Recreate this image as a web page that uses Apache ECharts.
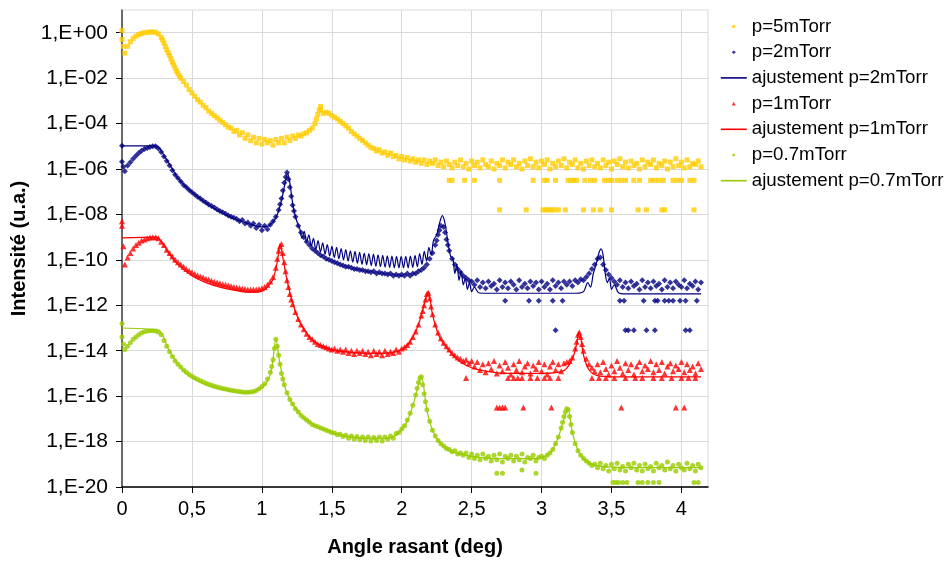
<!DOCTYPE html>
<html><head><meta charset="utf-8">
<script src="https://cdn.jsdelivr.net/npm/echarts@6/dist/echarts.min.js"></script>
<style>html,body{margin:0;padding:0;background:#fff}#c{width:946px;height:563px}</style>
</head><body><div id="c"></div><script>
// Angle grid of the measured scans (deg)
const angleStart = 0, angleStep = 0.02;
// log10 of intensity, one value per angle step
const p5 = [-0.3,-0.9,-0.6,-0.4,-0.25,-0.15,-0.08,-0.03,0.0,0.02,
0.03,0.03,0.02,-0.05,-0.2,-0.45,-0.75,-1.0,-1.3,-1.55,
-1.8,-2.0,-2.15,-2.3,-2.5,-2.65,-2.8,-2.95,-3.05,-3.2,
-3.3,-3.45,-3.55,-3.65,-3.75,-3.85,-3.95,-4.05,-4.15,-4.2,
-4.35,-4.3,-4.5,-4.4,-4.65,-4.5,-4.75,-4.6,-4.85,-4.65,
-4.9,-4.7,-4.85,-4.75,-4.95,-4.7,-4.85,-4.65,-4.85,-4.6,
-4.75,-4.55,-4.65,-4.5,-4.55,-4.45,-4.4,-4.3,-4.2,-4.0,
-3.6,-3.25,-3.55,-3.5,-3.55,-3.65,-3.72,-3.8,-3.9,-4.0,
-4.1,-4.2,-4.35,-4.45,-4.55,-4.65,-4.75,-4.85,-4.95,-5.05,
-5.1,-5.2,-5.15,-5.3,-5.25,-5.4,-5.3,-5.45,-5.4,-5.55,
-5.45,-5.6,-5.5,-5.65,-5.55,-5.7,-5.6,-5.75,-5.6,-5.8,
-5.65,-5.75,-5.6,-5.85,-5.7,-5.9,-5.65,-5.8,-5.95,-5.7,
-5.85,-5.6,-5.9,-5.75,-6.0,-5.65,-5.85,-5.7,-5.95,-5.6,
-5.8,-5.9,-5.65,-6.0,-5.75,-5.85,-5.6,-5.95,-5.7,-5.8,
-5.6,-5.9,-5.75,-6.0,-5.65,-5.85,-5.55,-5.9,-5.7,-5.95,
-5.65,-5.8,-5.6,-6.0,-5.75,-5.9,-5.65,-5.85,-5.55,-5.95,
-5.7,-5.8,-5.6,-5.95,-5.75,-6.0,-5.65,-5.85,-5.6,-5.9,
-5.75,-5.95,-5.6,-5.85,-5.7,-6.0,-5.65,-5.8,-5.55,-5.9,
-5.7,-5.95,-5.65,-5.85,-5.75,-6.0,-5.6,-5.9,-5.7,-5.8,
-5.6,-5.95,-5.75,-5.85,-5.65,-6.0,-5.7,-5.9,-5.55,-5.85,
-5.7,-5.95,-5.6,-5.9,-5.75,-5.8,-5.65,-5.9];
// extra readings: steep parts and isolated low-count points [angle, log10 I]
const p5Extra = [[0,0.1],[0.01,-0.6],[0.29,-0.32],[0.31,-0.6],[0.33,-0.88],[0.35,-1.15],[0.37,-1.42],[0.39,-1.68],[0.41,-1.9],[1.39,-3.8],[1.41,-3.4],[1.42,-3.4],
[2.34,-6.5],[2.36,-6.5],[2.45,-6.5],[2.52,-6.5],[2.70,-6.5],[2.94,-6.5],[3.02,-6.5],[3.04,-6.5],[3.10,-6.5],[3.19,-6.5],[3.21,-6.5],[3.23,-6.5],[3.25,-6.5],[3.31,-6.5],[3.35,-6.5],[3.38,-6.5],[3.45,-6.5],[3.48,-6.5],[3.50,-6.5],[3.54,-6.5],[3.57,-6.5],[3.60,-6.5],[3.66,-6.5],[3.70,-6.5],[3.78,-6.5],[3.81,-6.5],[3.84,-6.5],[3.87,-6.5],[3.94,-6.5],[3.97,-6.5],[4.00,-6.5],[4.06,-6.5],[4.09,-6.5],
[2.70,-7.8],[2.89,-7.8],[3.01,-7.8],[3.03,-7.8],[3.05,-7.8],[3.07,-7.8],[3.09,-7.8],[3.12,-7.8],[3.17,-7.8],[3.30,-7.8],[3.37,-7.8],[3.42,-7.8],[3.50,-7.8],[3.69,-7.8],[3.75,-7.8],[3.86,-7.8],[3.88,-7.8],[4.09,-7.8]];

const p2 = [-5.68,-6.1,-5.85,-5.7,-5.55,-5.42,-5.3,-5.2,-5.12,-5.07,
-5.03,-5.0,-5.0,-5.1,-5.25,-5.45,-5.65,-5.85,-6.05,-6.25,
-6.4,-6.55,-6.7,-6.8,-6.92,-7.02,-7.12,-7.22,-7.3,-7.4,
-7.48,-7.56,-7.63,-7.7,-7.78,-7.85,-7.9,-7.97,-8.05,-8.1,
-8.15,-8.2,-8.3,-8.25,-8.4,-8.35,-8.5,-8.4,-8.6,-8.45,
-8.7,-8.5,-8.65,-8.45,-8.3,-8.1,-7.8,-7.3,-6.6,-6.15,
-6.8,-7.6,-8.1,-8.5,-8.8,-9.0,-9.2,-9.35,-9.5,-9.6,
-9.7,-9.8,-9.85,-9.95,-10.0,-10.05,-10.1,-10.15,-10.2,-10.25,
-10.3,-10.3,-10.35,-10.4,-10.4,-10.45,-10.45,-10.5,-10.5,-10.55,
-10.5,-10.6,-10.55,-10.6,-10.6,-10.65,-10.6,-10.7,-10.65,-10.7,
-10.65,-10.7,-10.6,-10.7,-10.6,-10.6,-10.5,-10.45,-10.35,-10.2,
-9.95,-9.7,-9.35,-8.9,-8.5,-8.55,-9.1,-9.6,-9.95,-10.2,
-10.4,-10.55,-10.7,-10.8,-10.9,-10.95,-11.1,-10.9,-11.2,-11.0,
-11.25,-10.95,-11.15,-11.05,-11.3,-10.9,-11.2,-11.0,-11.25,-10.95,
-11.1,-11.3,-10.9,-11.2,-11.05,-11.25,-10.95,-11.15,-11.0,-11.3,
-10.95,-11.2,-11.05,-11.3,-10.9,-11.15,-11.0,-11.25,-10.95,-11.1,
-10.95,-11.15,-10.9,-11.0,-10.85,-10.9,-10.75,-10.6,-10.4,-10.2,
-9.95,-9.9,-10.2,-10.45,-10.65,-10.8,-10.95,-11.1,-10.9,-11.2,
-11.0,-11.25,-10.95,-11.15,-11.05,-11.3,-10.9,-11.2,-11.0,-11.25,
-10.95,-11.15,-11.05,-11.3,-10.9,-11.2,-11.0,-11.25,-10.95,-11.1,
-11.2,-10.9,-11.25,-11.05,-11.15,-10.95,-11.3,-11.0];
const p2Extra = [[0,-4.98],[0.01,-5.9],[1.13,-7.55],[1.15,-6.95],[1.17,-6.35],[1.19,-6.45],[1.21,-7.2],[1.23,-7.85],[2.25,-9.15],[2.27,-8.7],[2.31,-8.8],[2.33,-9.35],
[2.74,-11.8],[2.91,-11.8],[2.98,-11.8],[3.08,-11.8],[3.15,-11.8],[3.56,-11.8],[3.59,-11.8],[3.73,-11.8],[3.81,-11.8],[3.83,-11.8],[3.88,-11.8],[3.91,-11.8],[3.94,-11.8],[3.99,-11.8],[4.03,-11.8],[4.11,-11.8],
[3.10,-13.1],[3.60,-13.1],[3.62,-13.1],[3.66,-13.1],[3.75,-13.1],[3.81,-13.1],[4.03,-13.1],[4.06,-13.1]];

const p1 = [-8.5,-10.2,-9.9,-9.7,-9.5,-9.35,-9.25,-9.15,-9.1,-9.05,
-9.02,-9.0,-9.0,-9.05,-9.2,-9.35,-9.55,-9.7,-9.85,-10.0,
-10.1,-10.2,-10.3,-10.4,-10.48,-10.55,-10.62,-10.68,-10.73,-10.78,
-10.83,-10.87,-10.92,-10.96,-11.0,-11.03,-11.07,-11.1,-11.13,-11.16,
-11.19,-11.22,-11.24,-11.26,-11.28,-11.3,-11.3,-11.3,-11.3,-11.28,
-11.25,-11.2,-11.1,-10.95,-10.75,-10.35,-9.6,-9.3,-10.1,-10.9,
-11.5,-11.95,-12.3,-12.6,-12.85,-13.05,-13.25,-13.4,-13.5,-13.6,
-13.7,-13.75,-13.8,-13.85,-13.9,-13.95,-13.9,-14.0,-13.95,-14.05,
-13.95,-14.1,-14.0,-14.15,-14.0,-14.1,-14.0,-14.15,-14.05,-14.2,
-14.0,-14.15,-14.05,-14.2,-14.0,-14.15,-14.05,-14.1,-13.95,-14.05,
-13.9,-13.85,-13.75,-13.6,-13.4,-13.15,-12.85,-12.45,-12.0,-11.5,
-11.7,-12.4,-12.85,-13.2,-13.45,-13.65,-13.8,-13.95,-14.1,-14.2,
-14.3,-14.35,-14.45,-14.4,-14.55,-14.45,-14.7,-14.5,-14.85,-14.6,
-14.95,-14.55,-14.8,-14.45,-15.0,-14.65,-14.9,-14.5,-14.75,-15.05,
-14.6,-14.85,-14.45,-14.95,-14.7,-14.55,-15.0,-14.65,-14.8,-14.5,
-14.9,-14.6,-15.05,-14.7,-14.5,-14.85,-14.6,-14.9,-14.55,-14.5,
-14.45,-14.3,-13.9,-13.3,-13.4,-14.0,-14.35,-14.6,-14.75,-14.9,
-14.6,-14.95,-14.5,-14.8,-15.05,-14.65,-14.9,-14.45,-14.75,-15.0,
-14.55,-14.85,-14.6,-15.05,-14.7,-14.5,-14.9,-14.65,-14.8,-14.45,
-14.95,-14.6,-14.85,-14.5,-15.0,-14.7,-14.55,-14.9,-14.65,-14.8,
-14.5,-14.95,-14.6,-14.85,-14.7,-15.0,-14.55,-14.8];
const p1Extra = [[0,-8.3],[0.01,-9.4],[1.11,-9.95],[1.13,-9.4],[1.15,-9.7],[1.17,-10.5],[1.19,-11.2],[1.21,-11.75],[2.15,-12.25],[2.17,-11.75],[2.19,-11.45],[2.21,-12.05],[3.25,-13.6],[3.27,-13.2],[3.29,-13.7],
[2.68,-16.5],[2.70,-16.5],[2.72,-16.5],[2.74,-16.5],[2.87,-16.5],[3.07,-16.5],[3.57,-16.5],[3.96,-16.5],[4.02,-16.5],
[2.46,-15.2],[2.76,-15.2],[2.80,-15.2],[2.83,-15.2],[2.86,-15.2],[2.92,-15.2],[2.97,-15.2],[3.02,-15.2],[3.06,-15.2],[3.12,-15.2],[3.36,-15.2],[3.41,-15.2],[3.46,-15.2],[3.52,-15.2],[3.60,-15.2],[3.67,-15.2],[3.72,-15.2],[3.80,-15.2],[3.86,-15.2],[3.93,-15.2],[4.00,-15.2],[4.05,-15.2],[4.10,-15.2]];

const p07 = [-12.8,-13.95,-13.8,-13.65,-13.5,-13.4,-13.3,-13.22,-13.17,-13.13,
-13.12,-13.12,-13.13,-13.18,-13.3,-13.55,-13.8,-14.05,-14.25,-14.45,
-14.6,-14.72,-14.85,-14.95,-15.05,-15.12,-15.2,-15.26,-15.32,-15.38,
-15.43,-15.48,-15.52,-15.56,-15.6,-15.63,-15.66,-15.69,-15.72,-15.74,
-15.76,-15.78,-15.8,-15.82,-15.83,-15.83,-15.82,-15.8,-15.75,-15.68,
-15.58,-15.45,-15.25,-14.95,-14.4,-13.5,-14.2,-15.0,-15.5,-15.85,
-16.15,-16.35,-16.55,-16.7,-16.85,-16.95,-17.05,-17.15,-17.25,-17.3,
-17.35,-17.4,-17.45,-17.5,-17.55,-17.6,-17.62,-17.7,-17.68,-17.78,
-17.72,-17.85,-17.75,-17.9,-17.78,-17.92,-17.8,-17.95,-17.8,-17.98,
-17.82,-17.95,-17.8,-17.98,-17.8,-17.9,-17.75,-17.85,-17.65,-17.6,
-17.45,-17.3,-17.05,-16.75,-16.4,-15.95,-15.4,-15.15,-15.9,-16.6,
-17.1,-17.5,-17.75,-17.95,-18.1,-18.2,-18.3,-18.35,-18.45,-18.4,
-18.55,-18.5,-18.6,-18.5,-18.7,-18.55,-18.75,-18.6,-18.8,-18.55,
-18.75,-18.65,-18.85,-18.6,-18.8,-18.55,-18.9,-18.65,-18.75,-18.6,
-18.85,-18.65,-18.8,-18.55,-18.9,-18.7,-18.75,-18.6,-18.85,-18.7,
-18.65,-18.75,-18.6,-18.5,-18.35,-18.1,-17.8,-17.4,-16.9,-16.55,
-16.9,-17.6,-18.1,-18.4,-18.6,-18.75,-18.85,-18.95,-19.05,-19.0,
-19.15,-18.95,-19.2,-19.05,-19.3,-19.0,-19.2,-18.95,-19.25,-19.1,
-19.3,-19.0,-19.15,-18.95,-19.25,-19.05,-19.3,-19.0,-19.2,-19.1,
-19.3,-18.95,-19.15,-19.05,-19.25,-18.9,-19.2,-19.05,-19.3,-19.0,
-19.15,-19.25,-18.95,-19.2,-19.05,-19.3,-19.0,-19.15];
const p07Extra = [[0,-13.4],[0.01,-13.7],[1.07,-14.7],[1.09,-13.9],[1.11,-13.8],[1.13,-14.6],[1.15,-15.25],[2.11,-15.65],[2.13,-15.2],[2.15,-15.5],[2.17,-16.25],[3.15,-17.15],[3.17,-16.7],[3.19,-16.6],[3.21,-17.25],
[2.68,-19.4],[2.72,-19.4],[2.96,-19.4],[2.86,-19.25],
[3.51,-19.8],[3.53,-19.8],[3.55,-19.8],[3.58,-19.8],[3.61,-19.8],[3.69,-19.8],[3.72,-19.8],[3.76,-19.8],[3.80,-19.8],[3.84,-19.8],[4.09,-19.8],[4.12,-19.8]];

// Fitted curves: [angle, log10 intensity]
const fit2 = [[0,-4.98],[0.24,-4.98],[0.27,-5.1],[0.3,-5.4],[0.35,-5.9],[0.4,-6.4],[0.5,-7.02],[0.6,-7.5],[0.7,-7.88],[0.8,-8.18],[0.9,-8.4],[1.0,-8.55],[1.05,-8.5],[1.1,-8.15],[1.14,-7.4],[1.17,-6.5],[1.185,-6.2],[1.2,-6.6],[1.225,-7.7],[1.25,-8.3],
[1.270,-8.6],[1.287,-9.05],[1.303,-8.75],[1.320,-9.2],[1.336,-8.9],[1.353,-9.4],[1.369,-9.05],[1.386,-9.55],[1.402,-9.15],[1.419,-9.65],
[1.435,-9.25],[1.452,-9.75],[1.468,-9.33],[1.485,-9.83],[1.501,-9.4],[1.518,-9.9],[1.534,-9.45],[1.551,-9.95],[1.567,-9.5],[1.584,-10.0],
[1.600,-9.55],[1.617,-10.05],[1.633,-9.6],[1.650,-10.1],[1.666,-9.63],[1.683,-10.15],[1.699,-9.67],[1.716,-10.2],[1.732,-9.7],[1.749,-10.22],
[1.765,-9.72],[1.782,-10.25],[1.798,-9.75],[1.815,-10.28],[1.831,-9.78],[1.848,-10.3],[1.864,-9.8],[1.881,-10.32],[1.897,-9.82],[1.914,-10.33],
[1.930,-9.84],[1.947,-10.35],[1.963,-9.85],[1.980,-10.35],[1.996,-9.85],[2.013,-10.35],[2.029,-9.85],[2.046,-10.35],[2.062,-9.83],[2.079,-10.33],
[2.095,-9.8],[2.112,-10.3],[2.128,-9.72],[2.145,-10.2],[2.161,-9.62],[2.178,-10.05],[2.194,-9.45],[2.211,-9.8],[2.227,-9.15],
[2.25,-8.9],[2.27,-8.4],[2.29,-8.05],[2.31,-8.4],[2.33,-9.2],[2.35,-9.85],[2.365,-9.9],[2.38,-10.6],[2.395,-10.2],[2.41,-10.9],[2.425,-10.5],[2.44,-11.1],[2.455,-10.8],[2.47,-11.3],[2.485,-11.0],[2.5,-11.4],[2.52,-11.2],[2.55,-11.45],[2.6,-11.47],[3.25,-11.47],
[3.3,-11.4],[3.33,-11.0],[3.35,-11.2],[3.37,-10.6],[3.39,-10.2],[3.41,-9.7],[3.425,-9.52],[3.44,-9.8],[3.455,-10.6],[3.47,-11.0],[3.485,-10.8],[3.5,-11.3],[3.52,-11.1],[3.55,-11.45],[3.6,-11.5],[4.14,-11.5]];
const fit1 = [[0,-9.03],[0.24,-9.0],[0.27,-9.1],[0.3,-9.35],[0.35,-9.85],[0.4,-10.2],[0.5,-10.7],[0.6,-11.0],[0.7,-11.2],[0.8,-11.33],[0.9,-11.42],[0.96,-11.42],[1.0,-11.38],[1.04,-11.2],[1.08,-10.85],[1.11,-10.1],[1.13,-9.3],[1.15,-9.9],[1.18,-10.9],[1.22,-11.9],[1.26,-12.6],[1.3,-13.05],[1.35,-13.45],[1.4,-13.7],[1.5,-13.95],[1.6,-14.05],[1.7,-14.1],[1.8,-14.12],[1.9,-14.1],[1.98,-14.0],[2.04,-13.75],[2.08,-13.4],[2.12,-12.85],[2.16,-12.0],[2.19,-11.4],[2.22,-12.4],[2.26,-13.25],[2.3,-13.7],[2.36,-14.15],[2.42,-14.5],[2.5,-14.75],[2.6,-14.9],[2.75,-15.0],[3.0,-15.0],[3.15,-14.9],[3.2,-14.6],[3.24,-14.0],[3.27,-13.15],[3.3,-14.2],[3.34,-14.85],[3.4,-15.1],[3.5,-15.15],[4.14,-15.15]];
const fit07 = [[0,-13.0],[0.26,-13.1],[0.29,-13.3],[0.33,-13.9],[0.38,-14.4],[0.45,-14.95],[0.55,-15.35],[0.65,-15.6],[0.75,-15.75],[0.85,-15.85],[0.92,-15.85],[0.98,-15.7],[1.03,-15.45],[1.07,-14.8],[1.1,-13.5],[1.13,-14.6],[1.17,-15.7],[1.22,-16.35],[1.3,-16.95],[1.4,-17.35],[1.5,-17.6],[1.6,-17.75],[1.75,-17.85],[1.9,-17.85],[1.98,-17.6],[2.04,-17.1],[2.09,-16.2],[2.14,-15.15],[2.18,-16.6],[2.22,-17.5],[2.28,-18.1],[2.36,-18.45],[2.5,-18.65],[2.7,-18.75],[2.95,-18.75],[3.06,-18.5],[3.12,-17.8],[3.16,-17.0],[3.19,-16.6],[3.22,-17.6],[3.27,-18.5],[3.34,-18.95],[3.45,-19.1],[3.7,-19.15],[4.14,-19.15]];

const xTicks = [0,0.5,1,1.5,2,2.5,3,3.5,4];
const yTicks = [-20,-18,-16,-14,-12,-10,-8,-6,-4,-2,0];
const names = ['p=5mTorr','p=2mTorr','ajustement p=2mTorr','p=1mTorr','ajustement p=1mTorr','p=0.7mTorr','ajustement p=0.7mTorr'];
const colors = ['#FFCC00','#000080','#000080','#FF0000','#FF0000','#99CC00','#99CC00'];

// legend glyphs for the measured scans (tiny corner points keep the 26x5 icon box)
const BOX = 'M0,0L0.01,0ZM26,5L26.01,5Z';
const icons = [
  'path://'+BOX+'M11.5,1H14.5V4H11.5Z',
  'path://'+BOX+'M13,0.8L15,2.5L13,4.2L11,2.5Z',
  null,
  'path://'+BOX+'M13,0.6L15,4.3L11,4.3Z',
  null,
  'path://'+BOX+'M11.5,2.5A1.5,1.5 0 1,0 14.5,2.5A1.5,1.5 0 1,0 11.5,2.5Z',
  null
];

function scan(vals, extra){
  return vals.map((v,i)=>[+(angleStart + i*angleStep).toFixed(3), v]).concat(extra);
}
const FONT = 'Liberation Sans, Arial, sans-serif';
function scatter(name, vals, extra, symbol, size, color){
  return {name, type:'scatter', data: scan(vals, extra), symbol, symbolSize:size,
    itemStyle:{color}, large:false, silent:true, clip:true};
}
function fit(name, pts, color){
  return {name, type:'line', data: pts, symbol:'none', showSymbol:false,
    lineStyle:{color, width:1.2}, itemStyle:{color}, smooth:0.3, silent:true, clip:true};
}
const legendData = names.map((n,i)=> icons[i]
  ? {name:n, icon:icons[i], itemStyle:{color:colors[i], borderWidth:0}}
  : {name:n, itemStyle:{opacity:0}, lineStyle:{color:colors[i], width:1.6}});

const chart = echarts.init(document.getElementById('c'), null, {renderer:'canvas'});
chart.setOption({
  animation:false,
  backgroundColor:'#fff',
  textStyle:{fontFamily:FONT},
  grid:{left:122, right:238, top:10, bottom:76, show:true, borderColor:'#d9d9d9', borderWidth:1, backgroundColor:'transparent'},
  legend:{orient:'vertical', left:720, top:17, padding:0, itemWidth:26, itemHeight:5, itemGap:6.7,
    textStyle:{fontSize:18.7, color:'#000', fontFamily:FONT}, selectedMode:false,
    data:legendData},
  xAxis:{type:'value', min:0, max:4.19, interval:0.5,
    name:'Angle rasant (deg)', nameLocation:'middle', nameGap:50,
    nameTextStyle:{fontSize:20, fontWeight:'bold', color:'#000', fontFamily:FONT},
    axisLine:{onZero:false, lineStyle:{color:'#000', width:1.5}},
    axisTick:{show:true, length:6, inside:false, lineStyle:{color:'#000'}, customValues:xTicks},
    axisLabel:{fontSize:20, color:'#000', margin:12, customValues:xTicks,
      formatter:v=> xTicks.indexOf(v)>=0 ? String(v).replace('.',',') : ''},
    splitLine:{show:true, lineStyle:{color:'#d9d9d9', width:1}}},
  yAxis:{type:'value', min:-20, max:1, interval:2,
    name:'Intensité (u.a.)', nameLocation:'middle', nameGap:92,
    nameTextStyle:{fontSize:20, fontWeight:'bold', color:'#000', fontFamily:FONT},
    axisLine:{show:true, onZero:false, lineStyle:{color:'#404040', width:1.5}},
    axisTick:{show:true, length:6, inside:false, lineStyle:{color:'#000'}, customValues:yTicks},
    axisLabel:{fontSize:21, color:'#000', margin:14, customValues:yTicks,
      formatter:v=>{ if(yTicks.indexOf(v)<0) return ''; const e=Math.abs(v); return '1,E'+(v<0?'-':'+')+(e<10?'0':'')+e; }},
    splitLine:{show:true, lineStyle:{color:'#d9d9d9', width:1}}},
  series:[
    scatter(names[0], p5, p5Extra, 'rect', 5, colors[0]),
    scatter(names[1], p2, p2Extra, 'diamond', 6, colors[1]),
    fit(names[2], fit2, colors[2]),
    scatter(names[3], p1, p1Extra, 'triangle', 6, colors[3]),
    fit(names[4], fit1, colors[4]),
    scatter(names[5], p07, p07Extra, 'circle', 5, colors[5]),
    fit(names[6], fit07, colors[6])
  ]
});
</script></body></html>
